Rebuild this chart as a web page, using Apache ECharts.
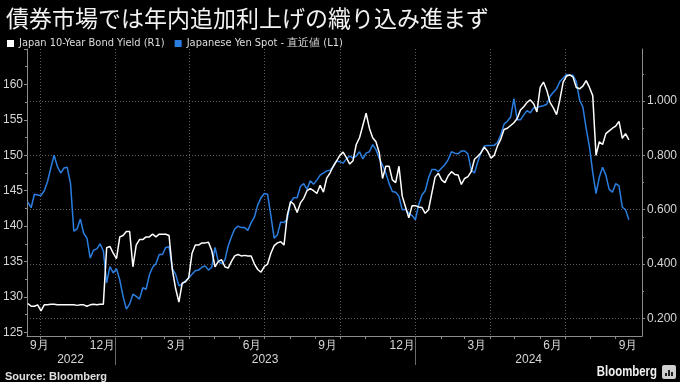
<!DOCTYPE html>
<html>
<head>
<meta charset="utf-8">
<script src="https://cdn.jsdelivr.net/npm/echarts@6/dist/echarts.min.js"></script>
<style>
html,body{margin:0;padding:0;background:#000;}
#chart{width:680px;height:382px;}
</style>
</head>
<body>
<div id="chart"></div>
<script>
// ---- data ----
const dates = [
'2022-09-16','2022-09-20','2022-09-24','2022-09-28','2022-10-02','2022-10-06','2022-10-10','2022-10-14','2022-10-18','2022-10-22',
'2022-10-26','2022-10-30','2022-11-03','2022-11-07','2022-11-11','2022-11-15','2022-11-19','2022-11-23','2022-11-27','2022-12-01',
'2022-12-05','2022-12-09','2022-12-13','2022-12-17','2022-12-21','2022-12-25','2022-12-29','2023-01-02','2023-01-06','2023-01-10',
'2023-01-14','2023-01-18','2023-01-22','2023-01-26','2023-01-30','2023-02-03','2023-02-07','2023-02-11','2023-02-15','2023-02-19',
'2023-02-23','2023-02-27','2023-03-03','2023-03-07','2023-03-11','2023-03-15','2023-03-19','2023-03-23','2023-03-27','2023-03-31',
'2023-04-04','2023-04-08','2023-04-12','2023-04-16','2023-04-20','2023-04-24','2023-04-28','2023-05-02','2023-05-06','2023-05-10',
'2023-05-14','2023-05-18','2023-05-22','2023-05-26','2023-05-30','2023-06-03','2023-06-07','2023-06-11','2023-06-15','2023-06-19',
'2023-06-23','2023-06-27','2023-07-01','2023-07-05','2023-07-09','2023-07-13','2023-07-17','2023-07-21','2023-07-25','2023-07-29',
'2023-08-02','2023-08-06','2023-08-10','2023-08-14','2023-08-18','2023-08-22','2023-08-26','2023-08-30','2023-09-03','2023-09-07',
'2023-09-11','2023-09-15','2023-09-19','2023-09-23','2023-09-27','2023-10-01','2023-10-05','2023-10-09','2023-10-13','2023-10-17',
'2023-10-21','2023-10-25','2023-10-29','2023-11-02','2023-11-06','2023-11-10','2023-11-14','2023-11-18','2023-11-22','2023-11-26',
'2023-11-30','2023-12-04','2023-12-08','2023-12-12','2023-12-16','2023-12-20','2023-12-24','2023-12-28','2024-01-01','2024-01-05',
'2024-01-09','2024-01-13','2024-01-17','2024-01-21','2024-01-25','2024-01-29','2024-02-02','2024-02-06','2024-02-10','2024-02-14',
'2024-02-18','2024-02-22','2024-02-26','2024-03-01','2024-03-05','2024-03-09','2024-03-13','2024-03-17','2024-03-21','2024-03-25',
'2024-03-29','2024-04-02','2024-04-06','2024-04-10','2024-04-14','2024-04-18','2024-04-22','2024-04-26','2024-04-30','2024-05-04',
'2024-05-08','2024-05-12','2024-05-16','2024-05-20','2024-05-24','2024-05-28','2024-06-01','2024-06-05','2024-06-09','2024-06-13',
'2024-06-17','2024-06-21','2024-06-25','2024-06-29','2024-07-03','2024-07-07','2024-07-11','2024-07-15','2024-07-19','2024-07-23',
'2024-07-27','2024-07-31','2024-08-04','2024-08-08','2024-08-12','2024-08-16','2024-08-20','2024-08-24','2024-08-28','2024-09-01',
'2024-09-05','2024-09-09','2024-09-13','2024-09-17'
];
const yenSpot = [
143.4,142.6,144.5,144.4,144.3,145.0,146.3,148.2,150.0,148.4,
147.5,148.2,148.3,146.0,139.3,139.6,141.0,139.0,138.3,135.5,
136.6,136.8,137.5,136.5,132.0,134.3,133.4,134.0,132.4,130.1,
128.3,129.0,130.4,130.1,129.7,131.3,131.1,133.1,134.2,134.7,
136.0,136.0,137.0,137.1,134.0,133.2,131.6,131.8,132.3,132.7,
133.2,133.7,133.8,134.2,134.4,133.8,134.2,137.0,135.0,134.7,
135.2,137.2,138.5,139.6,140.0,139.8,139.8,139.4,140.5,141.3,
143.0,144.0,144.6,144.5,141.5,138.3,138.8,140.6,140.5,141.0,
143.4,144.0,144.0,145.6,146.0,145.2,146.4,145.9,146.5,147.2,
147.5,147.8,147.9,148.4,149.2,149.1,148.9,149.5,149.9,149.6,
149.9,150.5,149.5,150.3,150.5,151.5,150.8,149.6,148.6,147.5,
146.0,144.9,144.8,144.2,142.3,142.4,141.8,141.5,140.9,143.0,
144.4,145.0,146.8,148.0,148.0,147.7,148.2,148.7,149.4,150.5,
150.3,150.2,150.6,150.6,150.2,147.9,147.5,149.1,150.4,151.3,
151.4,151.4,151.4,151.8,152.9,154.4,154.8,155.4,158.0,155.0,
155.0,155.7,156.3,156.0,156.7,156.7,156.9,157.0,157.2,158.3,
158.9,159.4,160.4,160.9,161.4,161.3,161.3,160.4,157.8,156.8,
153.8,151.2,147.6,144.6,146.9,148.3,147.2,145.2,144.8,146.0,
145.7,142.7,142.3,140.9
];
const jgbYield = [
0.255,0.245,0.245,0.250,0.228,0.250,0.250,0.252,0.252,0.250,
0.250,0.250,0.250,0.250,0.250,0.248,0.250,0.250,0.245,0.250,
0.252,0.250,0.252,0.252,0.460,0.465,0.440,0.420,0.500,0.505,
0.520,0.520,0.390,0.470,0.490,0.490,0.500,0.500,0.510,0.500,
0.510,0.510,0.510,0.505,0.380,0.310,0.260,0.330,0.335,0.350,
0.440,0.470,0.470,0.478,0.478,0.480,0.450,0.390,0.410,0.416,
0.390,0.385,0.410,0.430,0.435,0.430,0.432,0.430,0.430,0.400,
0.380,0.370,0.391,0.400,0.440,0.468,0.478,0.482,0.470,0.580,
0.630,0.620,0.590,0.625,0.642,0.670,0.678,0.670,0.660,0.690,
0.665,0.716,0.735,0.760,0.780,0.800,0.812,0.792,0.768,0.780,
0.840,0.865,0.910,0.955,0.900,0.865,0.850,0.810,0.715,0.760,
0.760,0.710,0.700,0.760,0.650,0.610,0.570,0.615,0.615,0.610,
0.608,0.587,0.600,0.660,0.720,0.734,0.710,0.700,0.725,0.740,
0.730,0.728,0.693,0.715,0.722,0.740,0.786,0.797,0.810,0.830,
0.815,0.790,0.800,0.835,0.860,0.895,0.900,0.910,0.920,0.936,
0.967,0.979,0.995,1.004,0.990,0.960,1.050,1.070,1.040,0.995,
0.975,0.950,1.005,1.070,1.092,1.096,1.088,1.050,1.045,1.055,
1.075,1.050,1.020,0.800,0.850,0.840,0.880,0.890,0.900,0.908,
0.925,0.863,0.880,0.857
];
const seriesNames = ['Japan 10-Year Bond Yield (R1)', 'Japanese Yen Spot - 直近値 (L1)'];
const monthTicks = ['2022-10-01','2022-11-01','2022-12-01','2023-01-01','2023-02-01','2023-03-01','2023-04-01','2023-05-01',
  '2023-06-01','2023-07-01','2023-08-01','2023-09-01','2023-10-01','2023-11-01','2023-12-01','2024-01-01','2024-02-01',
  '2024-03-01','2024-04-01','2024-05-01','2024-06-01','2024-07-01','2024-08-01','2024-09-01'];
const monthLabelDates = ['2022-09-30','2022-12-16','2023-03-16','2023-06-16','2023-09-16','2023-12-16','2024-03-16','2024-06-16','2024-09-16'];
const quarterLines = ['2022-10-01','2023-01-01','2023-04-01','2023-07-01','2023-10-01','2024-01-01','2024-04-01','2024-07-01'];
const yearBounds = ['2023-01-01','2024-01-01'];
const yearLabelDates = ['2022-11-07','2023-07-02','2024-05-18'];
const leftTicks = [125,130,135,140,145,150,155,160,165];
const leftLabels = [125,130,135,140,145,150,155,160];
const leftMinor = [127.5,132.5,137.5,142.5,147.5,152.5,157.5,162.5];
const rightTicks = [0.2,0.4,0.6,0.8,1.0];
const rightMinor = [0.3,0.5,0.7,0.9,1.1];

// ---- helpers ----
const ts = s => new Date(s + 'T00:00:00').getTime();
const FONT = "'Liberation Sans', Arial, sans-serif";
const NARROW = "'Liberation Sans Narrow', 'DejaVu Sans Condensed', 'Liberation Sans', sans-serif";
const AXIS_C = '#8c8c8c';
const LABEL_C = '#d6d6d6';
const GRID_C = '#5e5e5e';
const xMin = ts('2022-09-15'), xMax = ts('2024-10-03');
const yLMin = 124.5, yLMax = 165;
const yRMin = 0.1353, yRMax = 1.1915;

const chart = echarts.init(document.getElementById('chart'), null, {renderer: 'canvas'});

const baseX = {type: 'value', gridIndex: 0, position: 'bottom', min: xMin, max: xMax, scale: true};

const option = {
  backgroundColor: '#000',
  animation: false,
  title: {
    text: '債券市場では年内追加利上げの織り込み進まず',
    left: 1, top: 2,
    textStyle: {color: '#f2f2f2', fontSize: 23, fontWeight: 'normal', fontFamily: "'Noto Sans CJK JP', sans-serif"}
  },
  legend: {
    data: seriesNames,
    left: 2, top: 33,
    icon: 'rect', itemWidth: 7, itemHeight: 7, itemGap: 10,
    textStyle: {color: '#dcdcdc', fontSize: 11, fontFamily: NARROW}
  },
  grid: {left: 27, right: 38, top: 49, bottom: 46, containLabel: false, outerBoundsMode: 'none'},
  xAxis: [
    Object.assign({}, baseX, {
      axisLine: {show: true, onZero: false, lineStyle: {color: AXIS_C, width: 1}},
      axisTick: {show: true, length: 3, customValues: monthTicks.map(ts), lineStyle: {color: AXIS_C}},
      axisLabel: {show: true, customValues: monthLabelDates.map(ts), margin: 4, color: LABEL_C, fontSize: 12, fontFamily: FONT,
        formatter: v => (new Date(v).getMonth() + 1) + '月'},
      splitLine: {show: false}
    }),
    Object.assign({}, baseX, {
      axisLine: {show: false, onZero: false},
      axisTick: {show: true, length: 29, customValues: yearBounds.map(ts), lineStyle: {color: '#6a6a6a'}},
      axisLabel: {show: true, customValues: yearLabelDates.map(ts), margin: 18, color: LABEL_C, fontSize: 12, fontFamily: FONT,
        formatter: v => String(new Date(v).getFullYear())},
      splitLine: {show: false}
    }),
    Object.assign({}, baseX, {
      axisLine: {show: false, onZero: false},
      axisTick: {show: false, customValues: quarterLines.map(ts)},
      axisLabel: {show: false},
      splitLine: {show: true, lineStyle: {color: GRID_C, type: [1, 2], width: 1}}
    })
  ],
  yAxis: [
    {
      type: 'value', gridIndex: 0, position: 'left', min: yLMin, max: yLMax,
      axisLine: {show: true, onZero: false, lineStyle: {color: AXIS_C}},
      axisTick: {show: true, length: 3, customValues: leftTicks, lineStyle: {color: AXIS_C}},
      axisLabel: {show: true, customValues: leftLabels, margin: 4, color: LABEL_C, fontSize: 12, fontFamily: FONT},
      splitLine: {show: false}
    },
    {
      type: 'value', gridIndex: 0, position: 'right', min: yRMin, max: yRMax,
      axisLine: {show: true, onZero: false, lineStyle: {color: AXIS_C}},
      axisTick: {show: true, length: 3, customValues: rightTicks, lineStyle: {color: AXIS_C}},
      axisLabel: {show: true, customValues: rightTicks, margin: 5, color: LABEL_C, fontSize: 12, fontFamily: FONT,
        formatter: v => Number(v).toFixed(3)},
      splitLine: {show: true, lineStyle: {color: GRID_C, type: [1, 2], width: 1}}
    },
    {
      type: 'value', gridIndex: 0, position: 'left', min: yLMin, max: yLMax,
      axisLine: {show: false, onZero: false},
      axisTick: {show: true, length: 2, customValues: leftMinor, lineStyle: {color: AXIS_C}},
      axisLabel: {show: false}, splitLine: {show: false}
    },
    {
      type: 'value', gridIndex: 0, position: 'right', min: yRMin, max: yRMax,
      axisLine: {show: false, onZero: false},
      axisTick: {show: true, length: 2, customValues: rightMinor, lineStyle: {color: AXIS_C}},
      axisLabel: {show: false}, splitLine: {show: false}
    }
  ],
  series: [
    {
      name: seriesNames[1], type: 'line', xAxisIndex: 0, yAxisIndex: 0,
      data: dates.map((d, i) => [ts(d), yenSpot[i]]),
      showSymbol: false, symbol: 'none', color: '#2a7ee0',
      lineStyle: {width: 1.5, color: '#2a7ee0'}
    },
    {
      name: seriesNames[0], type: 'line', xAxisIndex: 0, yAxisIndex: 1,
      data: dates.map((d, i) => [ts(d), jgbYield[i]]),
      showSymbol: false, symbol: 'none', color: '#ffffff',
      lineStyle: {width: 1.5, color: '#ffffff'}
    }
  ],
  graphic: [
    {type: 'text', x: 5, y: 377, style: {text: 'Source: Bloomberg', fill: '#e0e0e0', font: "bold 11px " + FONT, textVerticalAlign: 'middle'}},
    {type: 'text', x: 657, y: 372, scaleX: 0.76, style: {text: 'Bloomberg', fill: '#f0f0f0', font: "bold 15px " + FONT, textAlign: 'right', textVerticalAlign: 'middle'}},
    {type: 'group', x: 662, y: 365, children: [
      {type: 'rect', shape: {x: 0, y: 0, width: 14, height: 14, r: 2}, style: {fill: '#cfcfcf'}},
      {type: 'rect', shape: {x: 3, y: 8, width: 2, height: 3}, style: {fill: '#222'}},
      {type: 'rect', shape: {x: 6, y: 5, width: 2, height: 6}, style: {fill: '#222'}},
      {type: 'rect', shape: {x: 9, y: 7, width: 2, height: 4}, style: {fill: '#222'}}
    ]}
  ]
};
chart.setOption(option);
</script>
</body>
</html>
